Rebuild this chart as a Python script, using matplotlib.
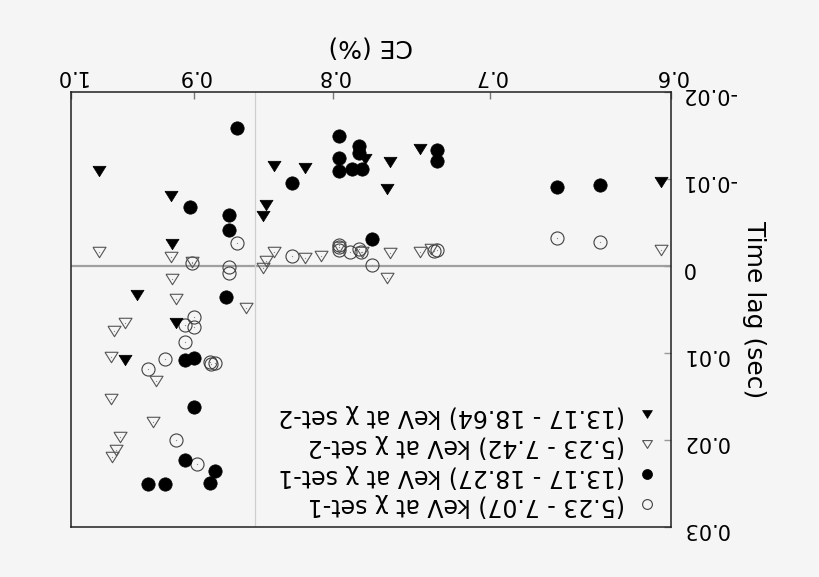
import matplotlib
matplotlib.use("Agg")
import matplotlib.pyplot as plt
from matplotlib.ticker import FixedLocator, FixedFormatter, NullLocator

plt.rcParams['font.family'] = ['DejaVu Sans']
plt.rcParams['axes.unicode_minus'] = False

# ---- data: CE (fraction) and time lag (sec) ----
set1_hi_ce = [0.868, 0.828, 0.903, 0.874, 0.874, 0.796, 0.782, 0.782, 0.796, 0.796,
              0.787, 0.780, 0.732, 0.732, 0.774, 0.661, 0.637, 0.876, 0.907, 0.900,
              0.900, 0.907, 0.884, 0.888, 0.936, 0.923]
set1_hi_lag = [-0.0159, -0.0096, -0.0068, -0.0059, -0.0042, -0.0150, -0.0138, -0.0130, -0.0125, -0.0110,
               -0.0112, -0.0112, -0.0134, -0.0121, -0.0031, -0.0091, -0.0094, 0.0035, 0.0108, 0.0105,
               0.0162, 0.0223, 0.0236, 0.0249, 0.0251, 0.0251]

set1_lo_ce = [0.868, 0.902, 0.874, 0.874, 0.828, 0.796, 0.796, 0.796, 0.788, 0.782,
              0.781, 0.774, 0.732, 0.734, 0.661, 0.637, 0.900, 0.907, 0.900, 0.907,
              0.923, 0.936, 0.888, 0.884, 0.887, 0.914, 0.898]
set1_lo_lag = [-0.0027, -0.0004, 0.0001, 0.0008, -0.0012, -0.0025, -0.0022, -0.0019, -0.0016, -0.0020,
               -0.0016, -0.0002, -0.0019, -0.0018, -0.0032, -0.0028, 0.0058, 0.0068, 0.0070, 0.0087,
               0.0107, 0.0118, 0.0110, 0.0111, 0.0113, 0.0200, 0.0227]

set2_hi_ce = [0.976, 0.918, 0.917, 0.841, 0.819, 0.847, 0.849, 0.778, 0.762, 0.764,
              0.743, 0.605, 0.945, 0.914, 0.955]
set2_hi_lag = [-0.0110, -0.0081, -0.0026, -0.0115, -0.0113, -0.0070, -0.0058, -0.0123, -0.0120, -0.0089,
               -0.0135, -0.0097, 0.0033, 0.0065, 0.0108]

set2_lo_ce = [0.976, 0.918, 0.902, 0.841, 0.847, 0.849, 0.819, 0.808, 0.796, 0.780,
              0.762, 0.743, 0.736, 0.605, 0.764, 0.917, 0.914, 0.861, 0.955, 0.964,
              0.966, 0.930, 0.966, 0.932, 0.959, 0.962, 0.965]
set2_lo_lag = [-0.0016, -0.0011, -0.0005, -0.0016, -0.0006, 0.0002, -0.0009, -0.0012, -0.0022, -0.0016,
               -0.0015, -0.0017, -0.0020, -0.0019, 0.0013, 0.0015, 0.0038, 0.0048, 0.0065, 0.0075,
               0.0104, 0.0132, 0.0153, 0.0179, 0.0197, 0.0211, 0.0219]

legend_labels = ["(13.17 - 18.64) keV at \u03c7 set-2",
                 "(5.23 - 7.42) keV at \u03c7 set-2",
                 "(13.17 - 18.27) keV at \u03c7 set-1",
                 "(5.23 - 7.07) keV at \u03c7 set-1"]

x_ticks = [0.6, 0.7, 0.8, 0.9, 1.0]
x_ticklabels = ["0.6", "0.7", "0.8", "0.9", "1.0"]
y_ticks = [-0.02, -0.01, 0.0, 0.01, 0.02, 0.03]
y_ticklabels = ["-0.02", "-0.01", "0", "0.01", "0.02", "0.03"]
ce_reference = 0.855

# ---- figure ----
bg = '#f5f5f5'
fig = plt.figure(figsize=(8.2, 5.77), dpi=100, facecolor=bg)
ax = fig.add_axes([0.086, 0.0867, 0.732, 0.753], facecolor=bg)

tri = [(-1, 0.8), (1, 0.8), (0, -0.8), (-1, 0.8)]

ax.axhline(0, color='#a0a0a0', lw=1.6, zorder=1)
ax.axvline(ce_reference, color='#cfcfcf', lw=0.9, zorder=1)

h4 = ax.plot(set1_lo_ce, set1_lo_lag, ls='none', marker='o', ms=9.4, mfc='none',
             mec='#404040', mew=0.8, zorder=3)[0]
h3 = ax.plot(set1_hi_ce, set1_hi_lag, ls='none', marker='o', ms=9.6, mfc='black',
             mec='black', mew=0.5, zorder=4)[0]
h2 = ax.plot(set2_lo_ce, set2_lo_lag, ls='none', marker=tri, ms=9.4, mfc='none',
             mec='#555555', mew=0.8, zorder=3)[0]
h1 = ax.plot(set2_hi_ce, set2_hi_lag, ls='none', marker=tri, ms=9.4, mfc='black',
             mec='black', mew=0.5, zorder=4)[0]
# tiny centre dots of the open markers
ax.plot(set1_lo_ce, set1_lo_lag, ls='none', marker='o', ms=0.9, mfc='#888888',
        mec='none', zorder=3)
ax.plot(set2_lo_ce, set2_lo_lag, ls='none', marker='o', ms=0.9, mfc='#888888',
        mec='none', zorder=3)

ax.set_xscale('log')
ax.set_xlim(1.0, 0.6)
ax.set_ylim(0.03, -0.02)

ax.xaxis.set_major_locator(FixedLocator(x_ticks))
ax.xaxis.set_major_formatter(FixedFormatter(x_ticklabels))
ax.xaxis.set_minor_locator(NullLocator())
ax.yaxis.set_major_locator(FixedLocator(y_ticks))
ax.yaxis.set_major_formatter(FixedFormatter(y_ticklabels))

ax.xaxis.tick_top()
ax.xaxis.set_label_position('top')
ax.yaxis.tick_right()
ax.yaxis.set_label_position('right')

ax.tick_params(axis='x', direction='in', length=5, width=1, color='#777777',
               labelsize=15, labelrotation=180, pad=5)
ax.tick_params(axis='y', direction='in', length=5, width=1, color='#999999',
               labelsize=15, labelrotation=180, pad=8)
for sp in ax.spines.values():
    sp.set_linewidth(1.1)
    sp.set_color('#202020')

ax.set_xlabel("CE (%)", fontsize=18, rotation=180, labelpad=9)
ax.set_ylabel("Time lag (sec)", fontsize=18, rotation=270, labelpad=22)

leg = ax.legend([h1, h2, h3, h4], legend_labels, loc='lower right',
                bbox_to_anchor=(1.015, -0.027), frameon=False, markerfirst=False,
                fontsize=17, labelspacing=0.25, handletextpad=0.4, handlelength=1.0,
                markerscale=0.75)
for t in leg.get_texts():
    t.set_rotation(180)

fig.savefig("out.png", dpi=100, facecolor=bg)
